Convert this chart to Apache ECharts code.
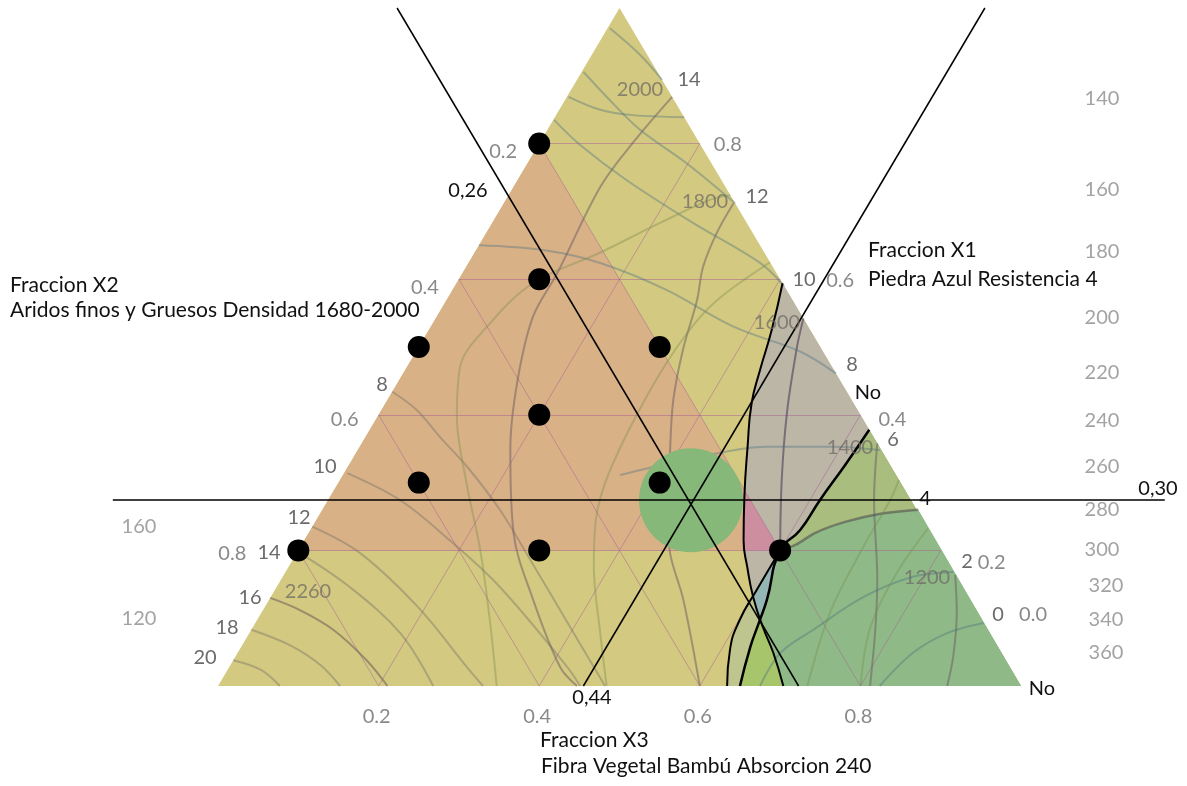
<!DOCTYPE html>
<html>
<head>
<meta charset="utf-8">
<script src="https://cdn.jsdelivr.net/npm/echarts@6/dist/echarts.min.js"></script>
<style>html,body{margin:0;padding:0;background:#fff}#chart{width:1187px;height:786px}</style>
</head>
<body>
<div id="chart"></div>
<script>
// all mixture points are [x1, x3]; x2 = 1 - x1 - x3
var designPoints = [[0.8,0],[0.6,0.1],[0.5,0],[0.5,0.3],[0.4,0.2],[0.3,0.1],[0.3,0.4],[0.2,0],[0.2,0.3],[0.2,0.6]];
var optimum = [0.274, 0.452];
var limitX1 = 0.274, limitX2 = 0.277, limitX3 = 0.455;
var limitX1Span = [-0.268, 1.042];

var x1Ticks = [0.8,0.6,0.4,0.2,0.0];
var x2Ticks = [0.2,0.4,0.6,0.8];
var x3Ticks = [0.2,0.4,0.6,0.8];
var gridVals = [0.2,0.4,0.6,0.8];

// black boundary curves
var bndL = [[0.594,0.406],[0.525,0.427],[0.466,0.442],[0.417,0.456],[0.353,0.483],[0.279,0.516],[0.215,0.547],[0.176,0.571],[0.131,0.601],[0.087,0.635],[0.049,0.667],[0,0.704]];
var bndR = [[0.378,0.622],[0.326,0.618],[0.274,0.6125],[0.230,0.610],[0.2,0.6],[0.127,0.620],[0.093,0.627],[0.058,0.634],[0,0.65]];
var bndS = [[0.2,0.6],[0.142,0.600],[0.097,0.601],[0.053,0.611],[0,0.634]];

// resistencia contours
var res14 = [[0.869,0.131],[0.801,0.116],[0.736,0.108],[0.609,0.118],[0.544,0.120],[0.447,0.149],[0.348,0.190],[0.226,0.255],[0.127,0.329],[0.028,0.412],[0,0.447]];
var res12 = [[0.712,0.286],[0.668,0.287],[0.618,0.295],[0.569,0.312],[0.496,0.331],[0.422,0.356],[0.348,0.389],[0.249,0.436],[0.196,0.465],[0.127,0.516],[0,0.600]];
var res8 = [[0.542,0.458],[0.5,0.471],[0.403,0.507],[0.304,0.550],[0.2,0.6]];
var res6 = [[0.358,0.642],[0.274,0.680],[0.156,0.743],[0.083,0.777],[0,0.812]];
var res4 = [[0.26,0.742],[0.254,0.698],[0.242,0.660],[0.226,0.631],[0.208,0.615],[0.2,0.6]];
var res2 = [[0.164,0.836],[0.108,0.866],[0.043,0.894],[0,0.908]];
var resL8 = [[0.434,0],[0.407,0.044],[0.367,0.093],[0.323,0.149],[0.260,0.221],[0.186,0.296],[0.112,0.370],[0.038,0.444],[0,0.482]];
var resL10 = [[0.314,0.004],[0.274,0.090],[0.215,0.181],[0.146,0.278],[0.028,0.421],[0,0.451]];
var resL12 = [[0.235,0],[0.196,0.079],[0.117,0.190],[0.028,0.296],[0,0.33]];
var resL14 = [[0.196,0.004],[0.146,0.091],[0.078,0.188],[0,0.268]];
var resL16 = [[0.130,0],[0.112,0.046],[0.083,0.102],[0.038,0.166],[0,0.211]];
var resL18 = [[0.083,0],[0.060,0.060],[0.031,0.112],[0,0.152]];
var resL20 = [[0.038,0],[0.024,0.041],[0,0.077]];

// densidad contours
var den2000a = [[0.97,0.003],[0.931,0.060],[0.894,0.106]];
var den2000 = [[0.869,0.002],[0.850,0.051],[0.842,0.096],[0.839,0.161]];
var den1900 = [[0.906,0.002],[0.864,0.056],[0.820,0.116],[0.771,0.198],[0.712,0.288]];
var den1800 = [[0.835,0.001],[0.798,0.052],[0.746,0.136],[0.683,0.250],[0.624,0.363],[0.59,0.41]];
var den1600 = [[0.650,0],[0.643,0.083],[0.624,0.164],[0.584,0.267],[0.530,0.377],[0.493,0.479],[0.461,0.539]];
var den1400 = [[0.311,0.345],[0.338,0.431],[0.353,0.507],[0.353,0.590],[0.348,0.650]];
var den1200 = [[0.168,0.832],[0.161,0.785],[0.131,0.738],[0.083,0.700],[0.049,0.676],[0,0.675]];
var den1000 = [[0.093,0.907],[0.078,0.869],[0.049,0.841],[0,0.824]];

// absorcion contours
var abs1 = [[0.724,0.276],[0.717,0.254],[0.683,0.209],[0.639,0.156],[0.594,0.095],[0.530,0.070],[0.471,0.066],[0.397,0.099],[0.299,0.160],[0.201,0.226],[0.097,0.290],[0,0.347]];
var abs2 = [[0.625,0.375],[0.569,0.337],[0.521,0.324],[0.437,0.320],[0.319,0.329],[0.245,0.348],[0.176,0.380],[0.078,0.437],[0,0.484]];
var abs3 = [[0.304,0.696],[0.274,0.700],[0.205,0.701],[0.108,0.708],[0,0.734]];
var abs4 = [[0.232,0.768],[0.167,0.762],[0.087,0.769],[0,0.800]];

// label texts
var resRightLabels = ['14','12','10','8','6','2','0'];
var resLeftLabels = ['8','10','12','14','16','18','20'];
var denLabels = ['2000','1800','1600','1400','1200','2260'];
var absRight = [140,160,180,200,220,240,260,280,300,320,340,360];
var absLeft = [160,120];

// regions built from the boundaries
var lxr = [0.098,0.6265];
var regTri = [[1,0],[0,0],[0,1]];
var regTan = [[0.8,0],[0.2,0],[0.2,0.6]];
var regGray = bndL.concat([[0,1]]);
var regPink = [[0.289,0.511],[0.279,0.516],[0.215,0.547],[0.2,0.556],[0.2,0.6]];
var regOlive = bndR.concat([[0,1]]);
var regGreen = res4.concat(bndR.slice(5), [[0,1]]);
var regStrip = bndS.concat(bndR.slice(5).reverse());
var regBlue = [[0.2,0.6],[0.142,0.600],[0.131,0.601],lxr,[0.127,0.620]];
var regBright = [lxr,[0.093,0.627],[0.058,0.634],[0,0.65],[0,0.704],[0.049,0.667],[0.087,0.635]];

function xy(p) { return [p[1] + p[0] / 2, p[0]]; }

function poly(points, color, z) {
    return {
        type: 'custom', z: z, silent: true, data: [[0, 0]],
        renderItem: function (params, api) {
            return {
                type: 'polygon',
                shape: {points: points.map(function (p) { return api.coord(xy(p)); })},
                style: {fill: color}
            };
        }
    };
}

function curve(points, color, width, z, smooth) {
    return {
        type: 'line', data: points.map(xy), smooth: smooth || 0.35, symbol: 'none', silent: true, z: z,
        lineStyle: {color: color, width: width, opacity: 1}
    };
}

var gridSegs = [];
gridVals.forEach(function (v) {
    gridSegs.push({coords: [xy([v, 0]), xy([v, 1 - v])]});
    gridSegs.push({coords: [xy([0, v]), xy([1 - v, v])]});
    gridSegs.push({coords: [xy([0, 1 - v]), xy([1 - v, 0])]});
});

var limitSegs = [
    {coords: [xy([1, -limitX2]), xy([0, 1 - limitX2])]},
    {coords: [xy([1, limitX3]), xy([0, limitX3])]},
    {coords: [xy([limitX1, limitX1Span[0]]), xy([limitX1, limitX1Span[1]])]}
];

var FONT = 'Lato, "Open Sans", sans-serif';
var tickLabel = {show: true, position: 'inside', color: '#6b6b6b', fontSize: 20, fontFamily: FONT,
    formatter: function (p) { return p.name; }};

var x1Off = [[28,1],[60,1],[32,5],[51,12],[12,-71]];
var x2Off = [[-36,8],[-34,8],[-34,5],[-66,3]];
var x3Off = [-2,31];

var tickData = [];
x1Ticks.forEach(function (v, i) { tickData.push({name: v.toFixed(1), value: xy([v, 1 - v]), label: {offset: x1Off[i]}}); });
x2Ticks.forEach(function (v, i) { tickData.push({name: v.toFixed(1), value: xy([1 - v, 0]), label: {offset: x2Off[i]}}); });
x3Ticks.forEach(function (v) { tickData.push({name: v.toFixed(1), value: xy([0, v]), label: {offset: x3Off}}); });

function txt(s, x, y, color, align, size) {
    return {type: 'text', x: x, y: y, z: 100, silent: true,
        style: {text: s, fill: color, font: (size || 20) + 'px ' + FONT, align: align || 'center', verticalAlign: 'middle',
            textAlign: align || 'center', textVerticalAlign: 'middle'}};
}

var texts = [];
var resRightPos = [[689,80],[757,197],[804,280],[852,365],[893,440],[967,562],[998,615]];
var resLeftPos = [[382,385],[325,467],[299,518],[269,553],[250,598],[227,628],[205,658]];
var denPos = [[640,90],[705,202],[777,323],[850,448],[927,578],[308,592]];
var absRightY = [99,190,252,318,373,421,467,510,550,586,620,653];
var absLeftY = [527,619];
resRightLabels.forEach(function (s, i) { texts.push(txt(s, resRightPos[i][0], resRightPos[i][1], '#6b6b6b')); });
resLeftLabels.forEach(function (s, i) { texts.push(txt(s, resLeftPos[i][0], resLeftPos[i][1], '#6b6b6b')); });
denLabels.forEach(function (s, i) { texts.push(txt(s, denPos[i][0], denPos[i][1], 'rgba(110,105,100,0.75)')); });
absRight.forEach(function (v, i) { texts.push(txt(String(v), i > 8 ? 1106 : 1102, absRightY[i], '#a3a3a3')); });
absLeft.forEach(function (v, i) { texts.push(txt(String(v), 139, absLeftY[i], '#a3a3a3')); });
texts.push(txt('4', 925, 499, '#111'));
texts.push(txt('No', 868, 393, '#111'));
texts.push(txt('No', 1042, 689, '#111'));
texts.push(txt('0,26', 468, 191, '#111'));
texts.push(txt('0,44', 592, 698, '#111'));
texts.push(txt('0,30', 1158, 489, '#111'));
texts.push(txt('Fraccion X2', 10, 285, '#111', 'left', 21));
texts.push(txt('Aridos finos y Gruesos Densidad 1680-2000', 10, 310, '#111', 'left', 21));
texts.push(txt('Fraccion X1', 868, 250, '#111', 'left', 21));
texts.push(txt('Piedra Azul Resistencia 4', 868, 279, '#111', 'left', 21));
texts.push(txt('Fraccion X3', 540, 740, '#111', 'left', 21));
texts.push(txt('Fibra Vegetal Bambú Absorcion 240', 541, 766, '#111', 'left', 21));

var RES = 'rgba(105,90,95,0.5)', DEN = 'rgba(70,110,125,0.38)', ABS = 'rgba(120,140,80,0.38)', LEFT = 'rgba(100,100,95,0.36)';

var series = [
    poly(regTri, '#d3c981', 1),
    poly(regTan, '#d9b187', 1),
    poly(regGray, '#bcb6a6', 1),
    poly(regPink, '#cd8ea0', 1),
    poly(regOlive, '#a9bd7f', 1),
    poly(regGreen, '#8fba87', 1),
    poly(regStrip, '#bfc58e', 1),
    poly(regBlue, '#94b6b4', 1),
    poly(regBright, '#a7c56b', 1),
    {type: 'lines', coordinateSystem: 'cartesian2d', silent: true, z: 2, data: gridSegs,
        lineStyle: {color: 'rgba(165,95,145,0.5)', width: 1, opacity: 1}},
    curve(res14, RES, 2, 3), curve(res12, RES, 2, 3), curve(res8, 'rgba(80,60,90,0.6)', 2, 3),
    curve(res6, RES, 2, 3), curve(res4, 'rgba(80,80,80,0.6)', 2.5, 3), curve(res2, RES, 2, 3),
    curve(resL8, LEFT, 2, 3), curve(resL10, LEFT, 2, 3), curve(resL12, LEFT, 2, 3),
    curve(resL14, LEFT, 2, 3), curve(resL16, 'rgba(110,90,90,0.55)', 2, 3), curve(resL18, LEFT, 2, 3),
    curve(resL20, LEFT, 2, 3),
    curve(den2000a, DEN, 2, 3), curve(den2000, DEN, 2, 3), curve(den1900, DEN, 2, 3), curve(den1800, DEN, 2, 3),
    curve(den1600, DEN, 2, 3), curve(den1400, DEN, 2, 3), curve(den1200, DEN, 2, 3), curve(den1000, DEN, 2, 3),
    curve(abs1, ABS, 2, 3), curve(abs2, ABS, 2, 3), curve(abs3, ABS, 2, 3), curve(abs4, ABS, 2, 3),
    {type: 'scatter', data: [xy(optimum)], symbolSize: 104, silent: true, z: 4, itemStyle: {color: '#86b879', opacity: 1}},
    curve(bndL, '#000', 2, 5, 0.5), curve(bndR, '#000', 2.5, 5, 0.5), curve(bndS, '#000', 2, 5, 0.5),
    {type: 'lines', coordinateSystem: 'cartesian2d', silent: true, z: 5, data: limitSegs,
        lineStyle: {color: '#000', width: 1.5, opacity: 1}},
    {type: 'scatter', data: designPoints.map(xy), symbolSize: 22, silent: true, z: 6, itemStyle: {color: '#000', opacity: 1}},
    {type: 'scatter', data: tickData, symbolSize: 1, silent: true, z: 7, itemStyle: {color: 'rgba(0,0,0,0)'}, label: tickLabel}
];

var chart = echarts.init(document.getElementById('chart'));
chart.setOption({
    animation: false,
    grid: {left: 0, right: 0, top: 0, bottom: 0},
    xAxis: {type: 'value', min: -0.2715, max: 1.2067, show: false},
    yAxis: {type: 'value', min: -0.1475, max: 1.0118, show: false},
    graphic: texts,
    series: series
});
window.onresize = chart.resize;
</script>
</body>
</html>
